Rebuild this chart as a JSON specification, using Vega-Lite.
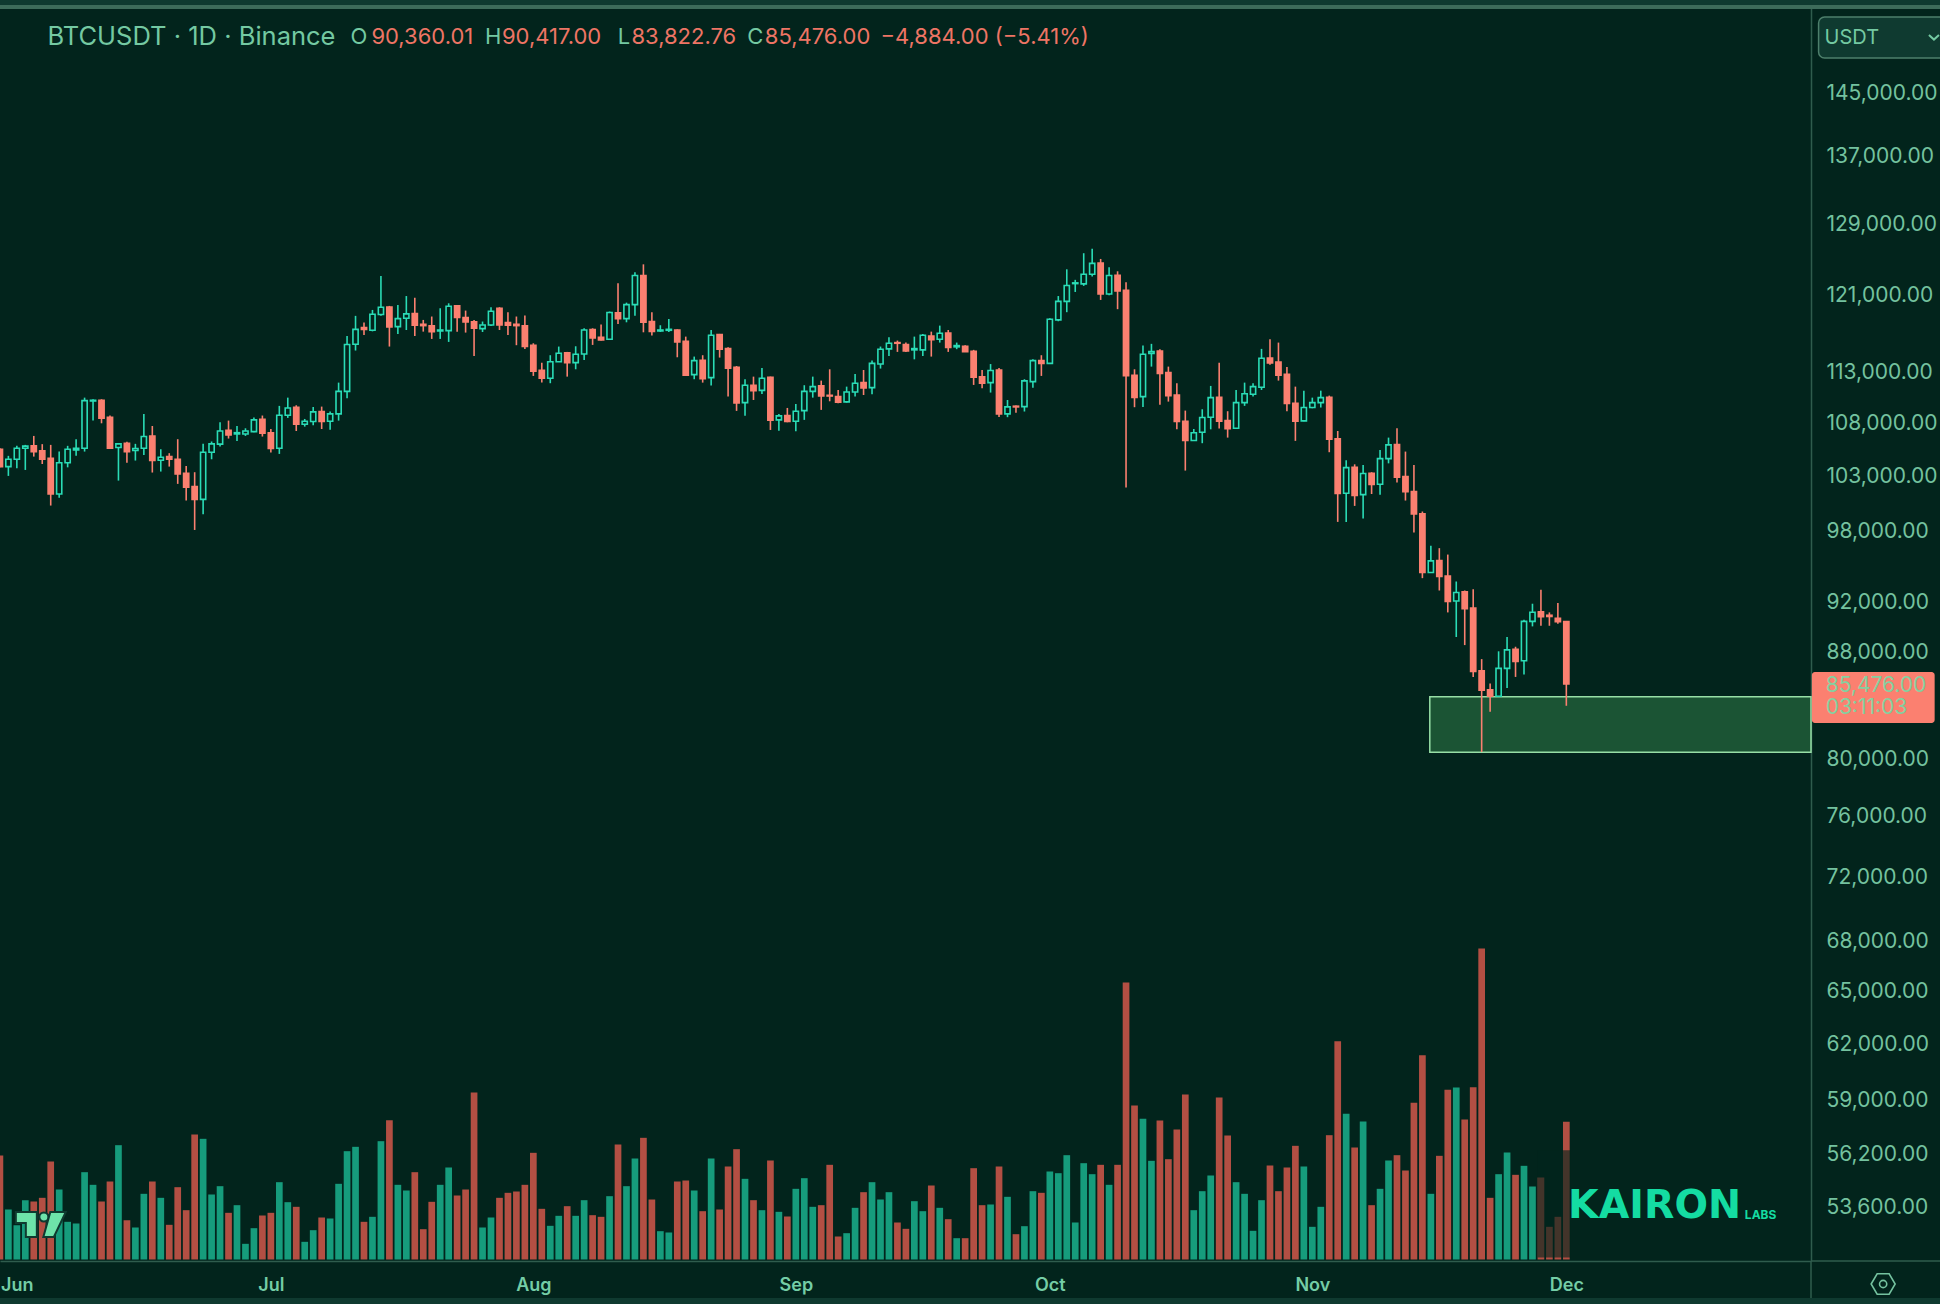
{"$schema":"https://vega.github.io/schema/vega-lite/v6.json","width":1811,"height":1253,"autosize":"none","padding":{"left":0,"top":8,"right":129,"bottom":43},"background":"#02241c","config":{"view":{"stroke":null}},
"datasets":{"candles":[
{"d":"2025-05-30","o":105400,"h":105500,"l":103715,"c":103775,"v":26000},
{"d":"2025-05-31","o":103775,"h":104780,"l":102920,"c":104460,"v":12500},
{"d":"2025-06-01","o":104460,"h":105720,"l":103620,"c":105500,"v":8580},
{"d":"2025-06-02","o":105500,"h":105810,"l":103470,"c":105690,"v":14830},
{"d":"2025-06-03","o":105720,"h":106660,"l":104710,"c":105180,"v":14500},
{"d":"2025-06-04","o":105250,"h":105880,"l":104020,"c":104460,"v":15420},
{"d":"2025-06-05","o":104560,"h":105810,"l":100230,"c":101270,"v":24500},
{"d":"2025-06-06","o":101270,"h":105180,"l":100940,"c":104140,"v":17500},
{"d":"2025-06-07","o":104140,"h":105720,"l":103710,"c":105400,"v":9420},
{"d":"2025-06-08","o":105340,"h":106350,"l":104780,"c":105500,"v":9000},
{"d":"2025-06-09","o":105500,"h":110370,"l":105180,"c":110080,"v":21830},
{"d":"2025-06-10","o":110040,"h":110210,"l":108130,"c":110110,"v":18670},
{"d":"2025-06-11","o":110110,"h":110210,"l":107870,"c":108360,"v":14500},
{"d":"2025-06-12","o":108460,"h":108620,"l":105470,"c":105500,"v":19500},
{"d":"2025-06-13","o":105560,"h":105970,"l":102490,"c":105910,"v":28580},
{"d":"2025-06-14","o":105970,"h":106100,"l":104140,"c":105180,"v":9830},
{"d":"2025-06-15","o":105280,"h":105910,"l":104340,"c":105470,"v":8000},
{"d":"2025-06-16","o":105500,"h":108780,"l":104870,"c":106600,"v":16420},
{"d":"2025-06-17","o":106660,"h":107610,"l":103230,"c":104340,"v":19500},
{"d":"2025-06-18","o":104370,"h":105400,"l":103320,"c":104650,"v":15420},
{"d":"2025-06-19","o":104710,"h":105030,"l":103780,"c":104460,"v":8670},
{"d":"2025-06-20","o":104460,"h":106350,"l":102190,"c":103100,"v":18080},
{"d":"2025-06-21","o":103170,"h":103840,"l":100680,"c":101880,"v":12330},
{"d":"2025-06-22","o":101950,"h":103260,"l":98070,"c":100790,"v":31250},
{"d":"2025-06-23","o":100790,"h":105910,"l":99460,"c":105120,"v":30170},
{"d":"2025-06-24","o":105120,"h":106130,"l":104460,"c":105910,"v":16250},
{"d":"2025-06-25","o":105880,"h":107970,"l":105660,"c":107130,"v":18330},
{"d":"2025-06-26","o":107190,"h":108130,"l":106410,"c":106750,"v":11670},
{"d":"2025-06-27","o":106850,"h":107610,"l":106190,"c":106970,"v":13580},
{"d":"2025-06-28","o":106850,"h":107390,"l":106660,"c":107130,"v":3920},
{"d":"2025-06-29","o":107070,"h":108430,"l":107010,"c":108200,"v":7830},
{"d":"2025-06-30","o":108260,"h":108620,"l":106600,"c":106910,"v":11000},
{"d":"2025-07-01","o":106970,"h":107320,"l":105090,"c":105470,"v":11670},
{"d":"2025-07-02","o":105500,"h":109560,"l":104960,"c":108650,"v":19330},
{"d":"2025-07-03","o":108650,"h":110370,"l":108390,"c":109360,"v":14330},
{"d":"2025-07-04","o":109430,"h":109620,"l":107130,"c":107780,"v":13170},
{"d":"2025-07-05","o":107780,"h":108290,"l":107550,"c":108070,"v":4420},
{"d":"2025-07-06","o":108040,"h":109460,"l":107680,"c":108980,"v":7330},
{"d":"2025-07-07","o":109010,"h":109490,"l":107320,"c":108040,"v":10500},
{"d":"2025-07-08","o":108070,"h":109010,"l":107260,"c":108780,"v":10250},
{"d":"2025-07-09","o":108780,"h":111860,"l":108130,"c":110990,"v":18920},
{"d":"2025-07-10","o":110990,"h":116620,"l":110300,"c":115730,"v":27080},
{"d":"2025-07-11","o":115760,"h":118730,"l":115110,"c":117310,"v":28170},
{"d":"2025-07-12","o":117490,"h":118020,"l":116720,"c":117310,"v":9420},
{"d":"2025-07-13","o":117210,"h":119360,"l":117100,"c":118900,"v":10670},
{"d":"2025-07-14","o":118870,"h":123040,"l":118730,"c":119650,"v":29580},
{"d":"2025-07-15","o":119680,"h":119790,"l":115520,"c":117560,"v":34830},
{"d":"2025-07-16","o":117590,"h":119900,"l":116830,"c":118440,"v":18670},
{"d":"2025-07-17","o":118480,"h":120850,"l":117240,"c":118940,"v":17250},
{"d":"2025-07-18","o":118980,"h":120670,"l":116620,"c":117740,"v":21830},
{"d":"2025-07-19","o":117840,"h":118300,"l":117070,"c":117700,"v":7580},
{"d":"2025-07-20","o":117670,"h":118660,"l":116310,"c":117070,"v":14420},
{"d":"2025-07-21","o":117140,"h":119540,"l":116310,"c":117240,"v":18670},
{"d":"2025-07-22","o":117170,"h":120070,"l":116000,"c":119750,"v":23000},
{"d":"2025-07-23","o":119790,"h":119860,"l":117070,"c":118550,"v":16000},
{"d":"2025-07-24","o":118550,"h":119290,"l":116970,"c":118090,"v":17500},
{"d":"2025-07-25","o":118090,"h":118300,"l":114560,"c":117420,"v":41750},
{"d":"2025-07-26","o":117380,"h":118130,"l":117030,"c":117770,"v":8000},
{"d":"2025-07-27","o":117770,"h":119650,"l":117670,"c":119220,"v":10500},
{"d":"2025-07-28","o":119540,"h":119650,"l":117240,"c":117770,"v":15420},
{"d":"2025-07-29","o":118020,"h":119120,"l":116720,"c":117740,"v":16670},
{"d":"2025-07-30","o":117840,"h":118660,"l":115660,"c":117700,"v":17000},
{"d":"2025-07-31","o":117670,"h":118760,"l":115280,"c":115520,"v":18670},
{"d":"2025-08-01","o":115660,"h":115860,"l":112530,"c":113000,"v":26670},
{"d":"2025-08-02","o":113100,"h":113870,"l":111860,"c":112300,"v":12670},
{"d":"2025-08-03","o":112300,"h":114630,"l":111800,"c":113970,"v":8420},
{"d":"2025-08-04","o":113970,"h":115520,"l":113940,"c":114830,"v":10920},
{"d":"2025-08-05","o":114870,"h":114970,"l":112460,"c":113870,"v":13330},
{"d":"2025-08-06","o":113870,"h":115550,"l":113200,"c":114730,"v":10920},
{"d":"2025-08-07","o":114760,"h":117420,"l":114140,"c":117240,"v":14830},
{"d":"2025-08-08","o":117280,"h":117420,"l":115690,"c":116410,"v":11080},
{"d":"2025-08-09","o":116480,"h":117810,"l":116140,"c":116210,"v":10670},
{"d":"2025-08-10","o":116280,"h":119190,"l":116240,"c":119080,"v":15830},
{"d":"2025-08-11","o":119050,"h":122240,"l":117880,"c":118440,"v":28750},
{"d":"2025-08-12","o":118440,"h":120140,"l":118050,"c":119930,"v":18330},
{"d":"2025-08-13","o":119930,"h":123450,"l":118730,"c":123080,"v":25250},
{"d":"2025-08-14","o":123080,"h":124320,"l":117000,"c":118050,"v":30420},
{"d":"2025-08-15","o":118130,"h":119120,"l":116660,"c":117100,"v":15000},
{"d":"2025-08-16","o":117140,"h":117740,"l":117030,"c":117240,"v":7080},
{"d":"2025-08-17","o":117210,"h":118410,"l":117030,"c":117310,"v":6750},
{"d":"2025-08-18","o":117240,"h":117310,"l":114420,"c":116000,"v":19500},
{"d":"2025-08-19","o":116070,"h":116550,"l":112530,"c":112600,"v":19750},
{"d":"2025-08-20","o":112660,"h":114490,"l":112200,"c":114080,"v":17250},
{"d":"2025-08-21","o":114110,"h":114630,"l":111860,"c":112260,"v":12080},
{"d":"2025-08-22","o":112360,"h":117240,"l":111560,"c":116690,"v":25250},
{"d":"2025-08-23","o":116760,"h":116830,"l":114390,"c":115250,"v":12500},
{"d":"2025-08-24","o":115310,"h":115450,"l":110470,"c":113300,"v":23250},
{"d":"2025-08-25","o":113400,"h":113530,"l":109070,"c":109850,"v":27580},
{"d":"2025-08-26","o":109880,"h":112200,"l":108590,"c":111600,"v":20170},
{"d":"2025-08-27","o":111600,"h":112460,"l":110140,"c":111060,"v":14830},
{"d":"2025-08-28","o":111090,"h":113330,"l":110730,"c":112300,"v":12330},
{"d":"2025-08-29","o":112400,"h":112460,"l":107230,"c":108170,"v":24750},
{"d":"2025-08-30","o":108200,"h":108780,"l":107160,"c":108590,"v":11920},
{"d":"2025-08-31","o":108620,"h":109360,"l":107970,"c":108040,"v":10750},
{"d":"2025-09-01","o":108070,"h":109750,"l":107100,"c":109040,"v":17670},
{"d":"2025-09-02","o":109100,"h":111600,"l":108200,"c":110990,"v":20330},
{"d":"2025-09-03","o":110990,"h":112460,"l":110370,"c":111460,"v":13170},
{"d":"2025-09-04","o":111530,"h":112060,"l":109170,"c":110530,"v":13580},
{"d":"2025-09-05","o":110600,"h":113200,"l":110010,"c":110530,"v":23670},
{"d":"2025-09-06","o":110470,"h":111130,"l":109820,"c":109910,"v":5750},
{"d":"2025-09-07","o":109950,"h":111460,"l":109880,"c":110930,"v":6580},
{"d":"2025-09-08","o":110930,"h":112730,"l":110470,"c":111800,"v":12920},
{"d":"2025-09-09","o":111860,"h":113130,"l":110630,"c":111330,"v":16830},
{"d":"2025-09-10","o":111360,"h":114080,"l":110700,"c":113800,"v":19330},
{"d":"2025-09-11","o":113730,"h":115520,"l":113270,"c":115250,"v":15000},
{"d":"2025-09-12","o":115280,"h":116480,"l":114560,"c":115860,"v":16830},
{"d":"2025-09-13","o":115930,"h":116140,"l":114970,"c":115860,"v":9250},
{"d":"2025-09-14","o":115730,"h":115930,"l":114970,"c":115070,"v":7670},
{"d":"2025-09-15","o":115180,"h":116550,"l":114210,"c":115310,"v":14580},
{"d":"2025-09-16","o":115180,"h":116830,"l":114560,"c":116690,"v":12080},
{"d":"2025-09-17","o":116620,"h":117070,"l":114490,"c":116240,"v":18500},
{"d":"2025-09-18","o":116280,"h":117700,"l":115930,"c":116900,"v":12920},
{"d":"2025-09-19","o":116930,"h":117240,"l":114970,"c":115420,"v":10080},
{"d":"2025-09-20","o":115490,"h":115930,"l":115250,"c":115620,"v":5330},
{"d":"2025-09-21","o":115550,"h":115660,"l":114970,"c":115000,"v":5330},
{"d":"2025-09-22","o":115040,"h":115180,"l":111630,"c":112400,"v":22830},
{"d":"2025-09-23","o":112430,"h":113130,"l":111300,"c":111800,"v":13580},
{"d":"2025-09-24","o":111860,"h":113730,"l":110870,"c":113070,"v":13750},
{"d":"2025-09-25","o":113130,"h":113330,"l":108490,"c":108780,"v":23250},
{"d":"2025-09-26","o":108780,"h":110140,"l":108460,"c":109460,"v":15670},
{"d":"2025-09-27","o":109530,"h":109590,"l":108880,"c":109460,"v":6330},
{"d":"2025-09-28","o":109490,"h":112200,"l":109010,"c":112030,"v":8330},
{"d":"2025-09-29","o":111960,"h":114210,"l":111360,"c":114080,"v":17080},
{"d":"2025-09-30","o":114080,"h":114630,"l":112530,"c":113800,"v":16670},
{"d":"2025-10-01","o":113800,"h":118480,"l":113770,"c":118370,"v":22000},
{"d":"2025-10-02","o":118300,"h":120850,"l":118160,"c":120280,"v":21580},
{"d":"2025-10-03","o":120280,"h":123770,"l":119120,"c":121990,"v":26080},
{"d":"2025-10-04","o":122200,"h":122610,"l":121290,"c":122280,"v":9250},
{"d":"2025-10-05","o":122170,"h":125560,"l":121950,"c":123230,"v":24080},
{"d":"2025-10-06","o":123230,"h":126050,"l":122970,"c":124430,"v":21330},
{"d":"2025-10-07","o":124470,"h":124920,"l":120430,"c":121070,"v":23670},
{"d":"2025-10-08","o":121070,"h":123990,"l":120930,"c":123080,"v":18670},
{"d":"2025-10-09","o":123120,"h":123550,"l":119440,"c":121400,"v":23670},
{"d":"2025-10-10","o":121470,"h":122350,"l":101850,"c":112560,"v":69250},
{"d":"2025-10-11","o":112600,"h":113200,"l":109430,"c":110400,"v":38500},
{"d":"2025-10-12","o":110470,"h":115620,"l":109460,"c":114730,"v":35170},
{"d":"2025-10-13","o":114800,"h":115800,"l":113470,"c":115000,"v":24670},
{"d":"2025-10-14","o":115070,"h":115250,"l":109660,"c":112770,"v":34750},
{"d":"2025-10-15","o":112870,"h":113470,"l":109980,"c":110560,"v":25080},
{"d":"2025-10-16","o":110630,"h":111800,"l":107290,"c":108040,"v":32500},
{"d":"2025-10-17","o":108070,"h":109100,"l":103410,"c":106220,"v":41250},
{"d":"2025-10-18","o":106220,"h":107320,"l":106190,"c":106970,"v":12330},
{"d":"2025-10-19","o":107010,"h":109230,"l":105970,"c":108430,"v":17080},
{"d":"2025-10-20","o":108460,"h":111530,"l":107290,"c":110370,"v":21000},
{"d":"2025-10-21","o":110400,"h":113870,"l":107360,"c":108070,"v":40500},
{"d":"2025-10-22","o":108130,"h":109040,"l":106500,"c":107360,"v":31000},
{"d":"2025-10-23","o":107390,"h":111130,"l":107320,"c":109880,"v":19330},
{"d":"2025-10-24","o":109880,"h":111860,"l":109560,"c":110760,"v":16420},
{"d":"2025-10-25","o":110700,"h":111800,"l":110470,"c":111460,"v":7170},
{"d":"2025-10-26","o":111400,"h":115280,"l":111130,"c":114320,"v":14830},
{"d":"2025-10-27","o":114350,"h":116280,"l":113670,"c":113830,"v":23500},
{"d":"2025-10-28","o":113940,"h":115930,"l":112060,"c":112600,"v":17080},
{"d":"2025-10-29","o":112700,"h":113430,"l":109040,"c":109790,"v":23000},
{"d":"2025-10-30","o":109820,"h":111460,"l":106190,"c":108070,"v":28420},
{"d":"2025-10-31","o":108100,"h":111060,"l":108070,"c":109400,"v":23250},
{"d":"2025-11-01","o":109400,"h":110370,"l":109330,"c":109880,"v":8170},
{"d":"2025-11-02","o":109880,"h":111060,"l":109400,"c":110370,"v":13170},
{"d":"2025-11-03","o":110400,"h":110570,"l":105120,"c":106350,"v":31080},
{"d":"2025-11-04","o":106380,"h":107130,"l":98780,"c":101310,"v":54580},
{"d":"2025-11-05","o":101340,"h":104370,"l":98780,"c":103680,"v":36420},
{"d":"2025-11-06","o":103710,"h":103990,"l":100200,"c":101150,"v":28000},
{"d":"2025-11-07","o":101210,"h":103930,"l":99080,"c":103140,"v":34500},
{"d":"2025-11-08","o":103170,"h":103260,"l":101270,"c":102130,"v":13580},
{"d":"2025-11-09","o":102160,"h":105340,"l":101210,"c":104520,"v":17670},
{"d":"2025-11-10","o":104520,"h":106500,"l":104080,"c":105810,"v":24750},
{"d":"2025-11-11","o":105840,"h":107390,"l":102310,"c":102800,"v":26080},
{"d":"2025-11-12","o":102860,"h":105180,"l":100680,"c":101490,"v":22250},
{"d":"2025-11-13","o":101490,"h":103930,"l":97840,"c":99490,"v":39170},
{"d":"2025-11-14","o":99500,"h":99700,"l":93940,"c":94420,"v":51080},
{"d":"2025-11-15","o":94420,"h":96690,"l":94400,"c":95400,"v":16420},
{"d":"2025-11-16","o":95430,"h":96490,"l":92910,"c":94080,"v":25920},
{"d":"2025-11-17","o":94110,"h":95940,"l":91110,"c":92010,"v":42420},
{"d":"2025-11-18","o":92040,"h":93660,"l":89130,"c":92750,"v":43000},
{"d":"2025-11-19","o":92800,"h":92910,"l":88490,"c":91410,"v":35000},
{"d":"2025-11-20","o":91470,"h":93020,"l":86010,"c":86440,"v":43080},
{"d":"2025-11-21","o":86490,"h":87390,"l":80430,"c":84990,"v":77750},
{"d":"2025-11-22","o":85020,"h":85500,"l":83370,"c":84540,"v":15420},
{"d":"2025-11-23","o":84540,"h":88000,"l":84520,"c":86670,"v":21330},
{"d":"2025-11-24","o":86670,"h":89130,"l":85170,"c":88110,"v":26750},
{"d":"2025-11-25","o":88160,"h":88360,"l":86010,"c":87210,"v":21170},
{"d":"2025-11-26","o":87260,"h":90510,"l":86190,"c":90380,"v":23420},
{"d":"2025-11-27","o":90380,"h":91820,"l":89980,"c":91120,"v":18250},
{"d":"2025-11-28","o":91150,"h":92970,"l":90030,"c":90760,"v":20500},
{"d":"2025-11-29","o":90880,"h":91110,"l":90030,"c":90780,"v":8170},
{"d":"2025-11-30","o":90640,"h":91880,"l":90190,"c":90360,"v":10670},
{"d":"2025-12-01","o":90360.01,"h":90417,"l":83822.76,"c":85476,"v":34420}
]},
"data":{"name":"candles"},
"encoding":{"x":{"field":"d","type":"temporal","title":null,"scale":{"type":"utc","domain":["2025-05-30T00:15:00Z","2025-12-29T21:30:00Z"],"nice":false,"padding":0},"axis":{"values":["2025-06-01","2025-07-01","2025-08-01","2025-09-01","2025-10-01","2025-11-01","2025-12-01"],"format":"%b","grid":false,"ticks":false,"labelFlush":false,"labelOverlap":false,"labelBound":false,"labelFont":"Inter","labelFontSize":18,"labelFontWeight":600,"labelColor":"#74cda6","labelPadding":15,"domainColor":"#2f5c4d","domainWidth":1.5}}},
"resolve":{"scale":{"y":"independent"},"axis":{"y":"independent"}},
"layer":[
{"mark":{"type":"bar","size":6.7},"encoding":{"y":{"field":"v","type":"quantitative","title":null,"axis":null,"scale":{"type":"linear","domain":[0,312875],"range":[1251.5,0],"nice":false,"zero":true}},"color":{"condition":{"test":"datum.c>=datum.o","value":"#169c7c"},"value":"#b34f43"}}},
{"layer":[
{"data":{"values":[{"d":"2025-11-14T21:00:00Z","d2":"2025-12-29T21:30:00Z","p":84510,"p2":80410}]},"mark":{"type":"rect","fill":"#1b5434","stroke":"#97dfa6","strokeWidth":1.5},"encoding":{"x2":{"field":"d2"},"y":{"field":"p","type":"quantitative","title":null,"scale":{"type":"log","domain":[51058,156293],"nice":false,"zero":false},"axis":{"orient":"right","values":[145000,137000,129000,121000,113000,108000,103000,98000,92000,88000,80000,76000,72000,68000,65000,62000,59000,56200,53600],"format":",.2f","grid":false,"ticks":false,"labelAlign":"left","labelBaseline":"middle","labelPadding":15,"labelOffset":1.2,"labelBound":false,"labelOverlap":false,"labelFlush":false,"labelFont":"Inter","labelFontSize":21,"labelColor":"#74c29f","domainColor":"#2f5c4d","domainWidth":1.5}},"y2":{"field":"p2"}}},
{"mark":{"type":"rule","strokeWidth":1.6},"encoding":{"y":{"field":"h","type":"quantitative","title":null},"y2":{"field":"l"},"color":{"condition":{"test":"datum.c>=datum.o","value":"#2adcb6"},"value":"#fb8070"}}},
{"mark":{"type":"bar","size":5.2,"strokeWidth":1.6},"encoding":{"y":{"field":"o","type":"quantitative","title":null},"y2":{"field":"c"},"stroke":{"condition":{"test":"datum.c>=datum.o","value":"#2adcb6"},"value":"#fb8070"},"fill":{"condition":{"test":"datum.c>=datum.o","value":"#02241c"},"value":"#fb8070"}}},
{"data":{"values":[{"d":"2025-11-27T14:24:00Z","d2":"2025-12-01T11:00:00Z","p":56370,"p2":51220}]},"mark":{"type":"rect","fill":"#02241c","opacity":0.63},"encoding":{"x2":{"field":"d2"},"y":{"field":"p","type":"quantitative","title":null},"y2":{"field":"p2"}}},
{"data":{"values":[{"d":"2025-05-29","d2":"2026-01-16","p":158120,"p2":156713}]},"mark":{"type":"rect","fill":"#0f3a30"},"encoding":{"x2":{"field":"d2"},"y":{"field":"p","type":"quantitative","title":null},"y2":{"field":"p2"}}},
{"data":{"values":[{"d":"2025-05-29","d2":"2026-01-16","p":156713,"p2":156155}]},"mark":{"type":"rect","fill":"#3d6b5a"},"encoding":{"x2":{"field":"d2"},"y":{"field":"p","type":"quantitative","title":null},"y2":{"field":"p2"}}},
{"data":{"values":[{"d":"2025-05-29","d2":"2026-01-16","p":49398,"p2":48873}]},"mark":{"type":"rect","fill":"#0f3a30"},"encoding":{"x2":{"field":"d2"},"y":{"field":"p","type":"quantitative","title":null},"y2":{"field":"p2"}}},
{"data":{"values":[{"d":"2025-12-29T21:30:00Z","d2":"2026-01-16","p":51058}]},"mark":{"type":"rule","stroke":"#2f5c4d","strokeWidth":1.5},"encoding":{"x2":{"field":"d2"},"y":{"field":"p","type":"quantitative","title":null}}},
{"data":{"values":[{"d":"2025-12-29T21:30:00Z","p":51058,"p2":49398}]},"mark":{"type":"rule","stroke":"#2f5c4d","strokeWidth":1.5},"encoding":{"y":{"field":"p","type":"quantitative","title":null},"y2":{"field":"p2"}}},
{"data":{"values":[{"d":"2025-12-30","d2":"2026-01-13T12:00:00Z","p":86390,"p2":82550}]},"mark":{"type":"rect","fill":"#fb8070","cornerRadius":3},"encoding":{"x2":{"field":"d2"},"y":{"field":"p","type":"quantitative","title":null},"y2":{"field":"p2"}}},
{"data":{"values":[{"d":"2025-12-30T19:00:00Z","d2":"2026-01-14T17:00:00Z","p":155043,"p2":149470}]},"mark":{"type":"rect","fill":"#0f3a30","stroke":"#4d7f6b","strokeWidth":1.5,"cornerRadius":6},"encoding":{"x2":{"field":"d2"},"y":{"field":"p","type":"quantitative","title":null},"y2":{"field":"p2"}}},
{"data":{"values":[{"d":"2025-06-04T15:00:00Z","p":152340,"t":"BTCUSDT · 1D · Binance"}]},"mark":{"type":"text","align":"left","baseline":"middle","font":"Inter","fontSize":25.5,"fill":"#74c9a2"},"encoding":{"y":{"field":"p","type":"quantitative","title":null},"text":{"field":"t"}}},
{"data":{"values":[{"d":"2025-07-10T10:00:00Z","p":152340,"t":"O"},{"d":"2025-07-26T07:00:00Z","p":152340,"t":"H"},{"d":"2025-08-10T23:00:00Z","p":152340,"t":"L"},{"d":"2025-08-26T06:00:00Z","p":152340,"t":"C"}]},"mark":{"type":"text","align":"left","baseline":"middle","font":"Inter","fontSize":22,"fill":"#74c9a2"},"encoding":{"y":{"field":"p","type":"quantitative","title":null},"text":{"field":"t"}}},
{"data":{"values":[{"d":"2025-07-12T21:00:00Z","p":152340,"t":"90,360.01"},{"d":"2025-07-28T07:00:00Z","p":152340,"t":"90,417.00"},{"d":"2025-08-12T14:00:00Z","p":152340,"t":"83,822.76"},{"d":"2025-08-28T08:00:00Z","p":152340,"t":"85,476.00"},{"d":"2025-09-11T00:00:00Z","p":152340,"t":"−4,884.00 (−5.41%)"}]},"mark":{"type":"text","align":"left","baseline":"middle","font":"Inter","fontSize":22,"fill":"#ee7565"},"encoding":{"y":{"field":"p","type":"quantitative","title":null},"text":{"field":"t"}}},
{"data":{"values":[{"d":"2025-12-31T15:00:00Z","p":85290,"t":"85,476.00"},{"d":"2025-12-31T15:00:00Z","p":83620,"t":"03:11:03"}]},"mark":{"type":"text","align":"left","baseline":"middle","font":"Inter","fontSize":21,"fill":"#85d0a0"},"encoding":{"y":{"field":"p","type":"quantitative","title":null},"text":{"field":"t"}}},
{"data":{"values":[{"d":"2025-12-31T12:00:00Z","p":152120,"t":"USDT"}]},"mark":{"type":"text","align":"left","baseline":"middle","font":"Inter","fontSize":20,"fill":"#74c9a2"},"encoding":{"y":{"field":"p","type":"quantitative","title":null},"text":{"field":"t"}}},
{"data":{"values":[{"d":"2025-12-01T05:00:00Z","p":53640,"t":"KAIRON"}]},"mark":{"type":"text","align":"left","baseline":"middle","font":"DejaVu Sans","fontWeight":"bold","fontSize":39.5,"fill":"#14dca2"},"encoding":{"y":{"field":"p","type":"quantitative","title":null},"text":{"field":"t"}}},
{"data":{"values":[{"d":"2025-12-22T02:00:00Z","p":53220,"t":"LABS"}]},"mark":{"type":"text","align":"left","baseline":"middle","font":"Inter","fontWeight":"bold","fontSize":12,"fill":"#14dca2"},"encoding":{"y":{"field":"p","type":"quantitative","title":null},"text":{"field":"t"}}},
{"data":{"values":[{"d":"2025-06-03T20:00:00Z","p":52750}]},"mark":{"type":"point","filled":true,"size":2500,"shape":"M-1,-0.5 H-0.16 V0.5 H-0.6 V-0.06 H-1 Z M0.38,-0.5 H1 L0.52,0.5 H0.1 Z M-0.06,-0.3 a0.18,0.18 0 1,0 0.36,0 a0.18,0.18 0 1,0 -0.36,0 Z","fill":"#6ee3aa","stroke":"#0f3a30","strokeWidth":2,"opacity":1},"encoding":{"y":{"field":"p","type":"quantitative","title":null}}},
{"data":{"values":[{"d":"2026-01-07T10:00:00Z","p":50020}]},"mark":{"type":"point","filled":false,"size":576,"shape":"M-1,0 L-0.5,-0.85 H0.5 L1,0 L0.5,0.85 H-0.5 Z M-0.3,0 a0.3,0.3 0 1,0 0.6,0 a0.3,0.3 0 1,0 -0.6,0 Z","stroke":"#74c29f","strokeWidth":1.6,"opacity":1},"encoding":{"y":{"field":"p","type":"quantitative","title":null}}},
{"data":{"values":[{"d":"2026-01-13T10:00:00Z","p":152290}]},"mark":{"type":"point","filled":false,"size":100,"shape":"M-1,-0.4 L0,0.5 L1,-0.4","stroke":"#74c9a2","strokeWidth":2,"opacity":1},"encoding":{"y":{"field":"p","type":"quantitative","title":null}}}
]}
]}
